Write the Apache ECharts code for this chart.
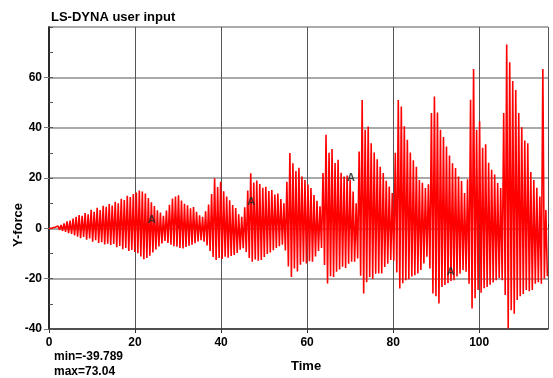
<!DOCTYPE html>
<html>
<head>
<meta charset="utf-8">
<script src="https://cdn.jsdelivr.net/npm/echarts@6/dist/echarts.min.js"></script>
<style>
  html, body { margin: 0; padding: 0; background: #fff; }
  #chart { width: 553px; height: 378px; }
</style>
</head>
<body>
<div id="chart"></div>
<script>
// one oscillation cycle every `period` time units: a peak, then a trough half a period later
const period = 0.7

const peaks = [
  0, 0.1, 0.4, 0.9, 1.3, 2.0, 2.8, 3.1, 3.9, 4.6,
  5.3, 5.0, 6.1, 5.6, 7.4, 6.6, 8.2, 7.3, 9.0, 8.6,
  9.7, 9.1, 10.6, 10.0, 11.7, 11.2, 12.9, 12.4, 13.6, 14.2,
  15.0, 14.6, 13.8, 12.0, 10.4, 8.9, 7.2, 6.3, 5.0, 7.1,
  9.4, 11.8, 12.6, 13.1, 11.0, 9.8, 9.2, 8.0, 8.5, 6.6,
  5.2, 4.6, 6.8, 9.5, 13.6, 19.9, 16.4, 18.5, 14.7, 12.6,
  11.2, 9.3, 8.1, 5.6, 4.6, 8.4, 15.0, 21.9, 18.2, 19.0,
  17.6, 16.1, 16.5, 14.8, 15.2, 13.4, 13.8, 11.6, 10.0, 18.5,
  29.9, 25.9, 22.8, 24.1, 20.6, 19.2, 17.4, 16.0, 13.2, 11.0,
  8.8, 22.0, 37.2, 30.0, 31.5, 26.0, 27.2, 22.1, 20.6, 21.0,
  19.3, 14.6, 10.0, 30.5, 51.0, 39.2, 40.5, 33.8, 30.1, 27.4,
  24.5, 22.0, 18.9, 16.6, 14.0, 30.0, 51.0, 48.4, 40.6, 35.2,
  30.1, 27.0, 24.5, 19.2, 18.1, 16.0, 17.5, 45.8, 52.4, 46.0,
  39.2, 36.3, 32.5, 28.9, 25.9, 24.0, 20.6, 18.8, 14.0, 19.5,
  51.1, 63.3, 39.2, 42.5, 32.0, 33.4, 26.1, 23.3, 21.4, 18.0,
  16.0, 45.8, 73.04, 66.0, 58.5, 55.0, 45.8, 40.2, 34.9, 33.8,
  22.4, 19.2, 16.1, 12.6, 63.3, 7.3
]

const troughs = [
  0, -0.1, -0.3, -0.6, -1.0, -1.4, -1.9, -2.2, -2.8, -3.3,
  -3.9, -3.4, -4.5, -4.0, -5.3, -4.7, -5.8, -5.5, -6.4, -6.1,
  -6.6, -6.2, -7.5, -7.0, -8.3, -7.8, -9.0, -8.6, -9.4, -9.9,
  -11.2, -12.3, -11.8, -10.9, -9.6, -8.4, -7.2, -6.0, -5.0, -5.8,
  -6.5, -7.1, -7.3, -7.8, -8.0, -7.4, -6.9, -6.5, -5.9, -5.2,
  -4.7, -5.3, -6.8, -9.0, -11.4, -12.6, -11.8, -12.2, -11.3, -11.7,
  -11.0, -10.6, -9.8, -8.5, -7.9, -9.4, -11.8, -13.3, -12.4, -12.9,
  -12.6, -11.4, -10.2, -9.6, -8.7, -7.8, -7.1, -6.5, -8.8, -15.2,
  -19.3, -16.0, -17.1, -14.5, -13.3, -14.0, -13.1, -13.3, -11.2, -9.0,
  -7.8, -14.6, -21.9, -19.0, -19.3, -17.2, -16.4, -15.3, -15.8, -14.1,
  -13.3, -13.3, -12.0, -18.8, -25.9, -21.4, -19.3, -20.1, -18.0, -17.9,
  -17.9, -15.4, -14.1, -12.6, -12.9, -17.5, -23.9, -21.8, -20.6, -20.2,
  -19.1, -18.6, -17.9, -16.6, -14.0, -11.3, -16.0, -25.9, -27.0, -29.9,
  -23.3, -22.5, -21.8, -20.9, -20.6, -19.1, -18.0, -16.6, -17.2, -22.0,
  -31.9, -27.8, -24.5, -25.6, -23.8, -23.3, -22.4, -21.5, -20.6, -19.7,
  -20.6, -26.5, -39.789, -32.5, -33.9, -28.5, -27.0, -26.1, -24.5, -25.0,
  -24.5, -22.0, -21.4, -22.0, -20.0, -19.0
]

// "A" markers on the curve
const markerTimes = [23.9, 47.0, 70.2, 93.4]
const markerValues = [3.3, 10.4, 20.2, -17.5]

const minText = 'min=-39.789'
const maxText = 'max=73.04'

const curve = []
peaks.forEach((p, i) => {
  curve.push([+(i * period).toFixed(3), p])
  curve.push([+(i * period + period / 2).toFixed(3), troughs[i]])
})

const markers = markerTimes.map((t, i) => [t, markerValues[i]])

const font = 'Arial, "Liberation Sans", sans-serif'
const labelStyle = { color: '#000', fontFamily: font, fontWeight: 'bold', fontSize: 12 }

const chart = echarts.init(document.getElementById('chart'))

chart.setOption({
  animation: false,
  title: {
    text: 'LS-DYNA user input',
    left: 46,
    top: 6,
    textStyle: { color: '#000', fontFamily: font, fontWeight: 'bold', fontSize: 13 }
  },
  grid: { left: 49, right: 5, top: 27, bottom: 49 },
  xAxis: [
    {
      type: 'value',
      min: 0,
      max: 116,
      interval: 20,
      axisLine: { show: true, onZero: false, lineStyle: { color: '#333', width: 1.5 } },
      axisTick: { show: true, inside: false, length: 4, lineStyle: { color: '#333' } },
      axisLabel: { ...labelStyle, margin: 8, showMaxLabel: false },
      splitLine: { show: true, lineStyle: { color: '#555', width: 1 } }
    },
    {
      type: 'value',
      position: 'bottom',
      min: 0,
      max: 116,
      interval: 10,
      axisLine: { show: false },
      axisTick: { show: true, inside: true, length: 4, lineStyle: { color: '#333' } },
      axisLabel: { show: false },
      splitLine: { show: false }
    }
  ],
  yAxis: [
    {
      type: 'value',
      min: -40,
      max: 80,
      interval: 20,
      axisLine: { show: true, onZero: false, lineStyle: { color: '#777', width: 2 } },
      axisTick: { show: true, inside: false, length: 5, lineStyle: { color: '#777' } },
      axisLabel: { ...labelStyle, margin: 7, showMaxLabel: false },
      splitLine: { show: true, lineStyle: { color: '#aaa', width: 2 } }
    },
    {
      type: 'value',
      position: 'left',
      min: -40,
      max: 80,
      interval: 10,
      axisLine: { show: false },
      axisTick: { show: true, inside: true, length: 4, lineStyle: { color: '#555' } },
      axisLabel: { show: false },
      splitLine: { show: false }
    },
    {
      type: 'value',
      position: 'right',
      min: -40,
      max: 80,
      axisLine: { show: true, lineStyle: { color: '#111', width: 1.5 } },
      axisTick: { show: false },
      axisLabel: { show: false },
      splitLine: { show: false }
    }
  ],
  series: [
    {
      type: 'line',
      data: curve,
      xAxisIndex: 0,
      yAxisIndex: 0,
      showSymbol: false,
      symbol: 'none',
      sampling: false,
      lineStyle: { color: '#ff0000', width: 1.6 },
      z: 3
    },
    {
      type: 'scatter',
      data: markers,
      xAxisIndex: 0,
      yAxisIndex: 0,
      symbolSize: 1,
      itemStyle: { color: 'rgba(0,0,0,0)' },
      label: {
        show: true,
        position: 'inside',
        formatter: 'A',
        color: '#222',
        fontFamily: font,
        fontWeight: 'bold',
        fontSize: 11
      },
      z: 4
    }
  ],
  graphic: [
    {
      type: 'text',
      left: 12,
      top: 203,
      rotation: Math.PI / 2,
      style: { text: 'Y-force', fill: '#000', font: 'bold 13px ' + font }
    },
    {
      type: 'text',
      left: 291,
      top: 360,
      style: { text: 'Time', fill: '#000', font: 'bold 13px ' + font }
    },
    {
      type: 'text',
      left: 54,
      top: 351,
      style: { text: minText, fill: '#000', font: 'bold 12px ' + font }
    },
    {
      type: 'text',
      left: 54,
      top: 366,
      style: { text: maxText, fill: '#000', font: 'bold 12px ' + font }
    }
  ]
})
</script>
</body>
</html>
